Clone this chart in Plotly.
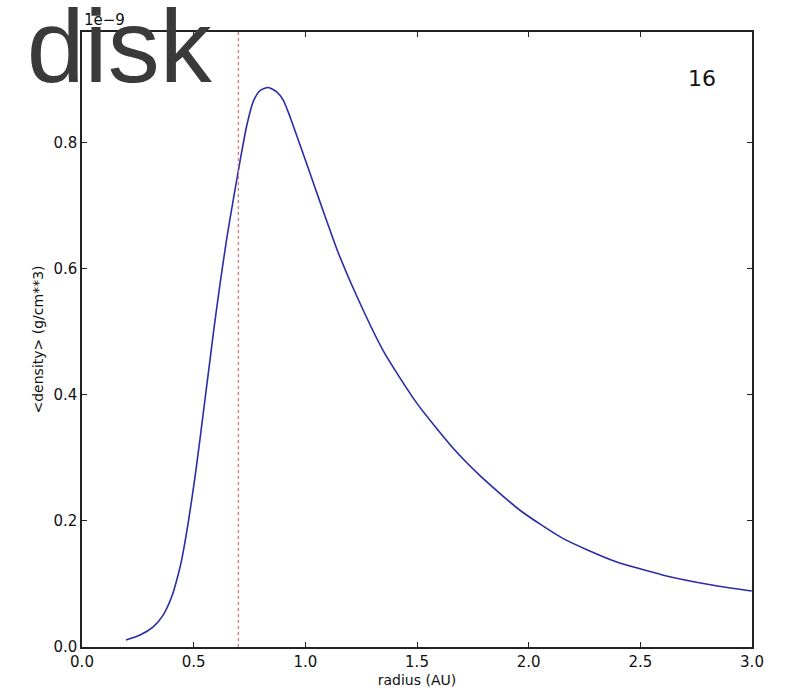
import plotly.graph_objects as go

# radius (AU) and <density> in units of 1e-9 g/cm^3
radius = [0.197, 0.260, 0.319, 0.364, 0.402, 0.424, 0.446, 0.476, 0.506, 0.528, 0.551, 0.573,
          0.591, 0.618, 0.648, 0.678, 0.708, 0.738, 0.767, 0.797, 0.834, 0.872, 0.901, 0.931,
          0.976, 1.021, 1.066, 1.111, 1.148, 1.230, 1.349, 1.499, 1.663, 1.782, 1.961, 2.155,
          2.379, 2.603, 2.827, 2.999]
density = [0.011, 0.019, 0.032, 0.051, 0.080, 0.106, 0.138, 0.198, 0.270, 0.329, 0.394, 0.455,
           0.506, 0.576, 0.648, 0.711, 0.772, 0.828, 0.866, 0.883, 0.888, 0.881, 0.868, 0.842,
           0.797, 0.752, 0.706, 0.661, 0.625, 0.557, 0.470, 0.387, 0.315, 0.272, 0.217, 0.172,
           0.137, 0.114, 0.098, 0.089]
marker_radius = 0.7
x_ticks = [0.0, 0.5, 1.0, 1.5, 2.0, 2.5, 3.0]
y_ticks = [0.0, 0.2, 0.4, 0.6, 0.8]
title_text = "disk"
frame_label = "16"
exponent_label = "1e\u22129"

fig = go.Figure()
fig.add_trace(go.Scatter(x=radius, y=density, mode="lines",
                         line=dict(color="#2c2ca8", width=1.6, shape="spline", smoothing=0.6),
                         showlegend=False, hoverinfo="skip"))
fig.add_trace(go.Scatter(x=[marker_radius, marker_radius], y=[0, 0.976], mode="lines",
                         line=dict(color="#e06868", width=1.2, dash="dot"),
                         showlegend=False, hoverinfo="skip"))

axis_common = dict(showline=True, linecolor="#222", linewidth=1.5, mirror="allticks",
                   ticks="inside", ticklen=5, tickcolor="#222", showgrid=False,
                   zeroline=False, automargin=False,
                   tickfont=dict(family="DejaVu Sans", size=15, color="#111"))

fig.update_layout(
    width=785, height=691,
    margin=dict(l=82, r=33, t=32, b=44),
    paper_bgcolor="white", plot_bgcolor="white",
    title=dict(text=title_text, x=0.034, xanchor="left", y=0.987, yanchor="top",
               font=dict(family="Liberation Sans, Arial", size=104, color="#3a3a3a"),
               pad=dict(t=0, l=0)),
    xaxis=dict(range=[0, 3.0], tickvals=x_ticks, ticktext=[f"{v:.1f}" for v in x_ticks],
               title=dict(text="radius (AU)", font=dict(family="DejaVu Sans", size=14, color="#111"),
                          standoff=5),
               **axis_common),
    yaxis=dict(range=[0, 0.976], tickvals=y_ticks, ticktext=[f"{v:.1f}" for v in y_ticks],
               title=dict(text="<density> (g/cm**3)".replace("<", "&lt;").replace(">", "&gt;"),
                          font=dict(family="DejaVu Sans", size=14, color="#111"), standoff=6),
               **axis_common),
    annotations=[
        dict(text=frame_label, x=0.925, y=0.925, xref="paper", yref="paper",
             xanchor="center", yanchor="middle",
             showarrow=False, font=dict(family="DejaVu Sans", size=22, color="#111")),
        dict(text=exponent_label, x=0.0, y=1.0, xref="paper", yref="paper",
             xanchor="left", yanchor="bottom", yshift=1, showarrow=False,
             font=dict(family="DejaVu Sans", size=15, color="#111")),
    ],
)

fig.write_html("out.html")
